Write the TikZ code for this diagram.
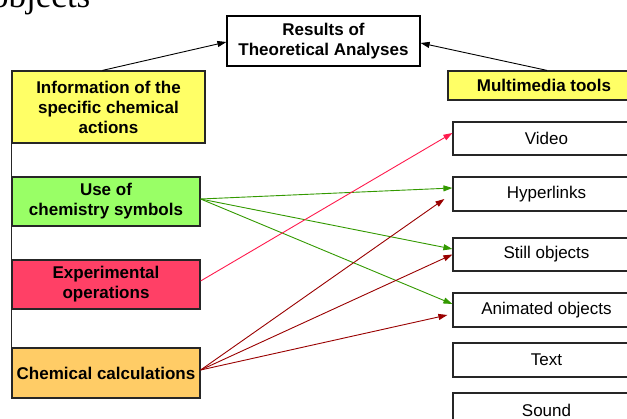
\documentclass[tikz,border=0pt]{standalone}
\usepackage{fontspec}
\setmainfont{Liberation Sans}
\newfontfamily\seriffont{Liberation Serif}
\usetikzlibrary{arrows.meta}
\definecolor{boxyellow}{HTML}{FFFF66}
\definecolor{boxgreen}{HTML}{99FF66}
\definecolor{boxred}{HTML}{FF4066}
\definecolor{boxorange}{HTML}{FFCC66}
\definecolor{arrgreen}{HTML}{339900}
\definecolor{arrred}{HTML}{FF1A4D}
\definecolor{arrdark}{HTML}{990000}
\tikzset{
  leftbox/.style={draw=black!85, line width=1.2pt, inner sep=0pt, align=center,
    font=\fontsize{17}{20}\selectfont\bfseries},
  rightbox/.style={draw=black!85, line width=1.2pt, inner sep=0pt, align=center,
    minimum width=187pt, minimum height=34pt, font=\fontsize{17}{20}\selectfont},
  tip/.style={-{Triangle[length=9pt,width=6pt]}, line width=0.9pt},
}
\begin{document}
\begin{tikzpicture}[x=1pt,y=-1pt]
\useasboundingbox (0,0) rectangle (627,419);
\begin{scope}
\clip (0,0) rectangle (627,419);
\node[anchor=base west, inner sep=0pt, font=\seriffont\fontsize{35}{35}\selectfont] (obj) at (-9,8) {objects};
% left boxes
\node[leftbox, fill=boxyellow, minimum width=193pt, minimum height=72pt] (info) at (108.5,107) {Information of the\\specific chemical\\actions};
\node[leftbox, fill=boxgreen, minimum width=188pt, minimum height=49pt] (use) at (106,201.5) {Use of\\chemistry symbols};
\node[leftbox, fill=boxred, minimum width=188pt, minimum height=49pt] (exp) at (106,284.5) {Experimental\\operations};
\node[leftbox, fill=boxorange, minimum width=188pt, minimum height=50pt] (chem) at (106,373) {Chemical calculations};
\draw[black!85, line width=1.2pt] (info.south west) -- (chem.north west);
% top
\node[leftbox, fill=white, draw=black, minimum width=193pt, minimum height=50pt] (res) at (323.5,41) {Results of\\Theoretical Analyses};
\node[leftbox, fill=boxyellow, minimum width=192pt, minimum height=29pt] (mm) at (544,85.5) {Multimedia tools};
% right boxes
\node[rightbox, minimum height=33pt] (video) at (546.5,138.5) {Video};
\node[rightbox] (hyper) at (546.5,194) {Hyperlinks};
\node[rightbox, minimum height=33pt] (still) at (546.5,254.5) {Still objects};
\node[rightbox] (anim) at (546.5,310) {Animated objects};
\node[rightbox] (text) at (546.5,360) {Text};
\node[rightbox] (sound) at (546.5,410) {Sound};
% arrows to results
\draw[tip, black] ([xshift=-6pt]info.north) -- ([yshift=-1pt]res.west);
\draw[tip, black] ([xshift=3pt]mm.north) -- ([yshift=-2pt]res.east);
% green
\draw[tip, arrgreen] ([yshift=2.5pt]use.east) -- ([yshift=6pt]hyper.west);
\draw[tip, arrgreen] ([yshift=2.5pt]use.east) -- ([yshift=5.5pt]still.west);
\draw[tip, arrgreen] ([yshift=2.5pt]use.east) -- ([yshift=6pt]anim.west);
% red
\draw[tip, arrred] ([yshift=3.5pt]exp.east) -- ([yshift=5.5pt]video.west);
% dark red
\draw[tip, arrdark] ([yshift=3pt]chem.east) -- ([xshift=-8pt,yshift=-5pt]hyper.west);
\draw[tip, arrdark] ([yshift=3pt]chem.east) -- (still.west);
\draw[tip, arrdark] ([yshift=3pt]chem.east) -- ([xshift=-5pt,yshift=-5pt]anim.west);
\end{scope}
\end{tikzpicture}
\end{document}
